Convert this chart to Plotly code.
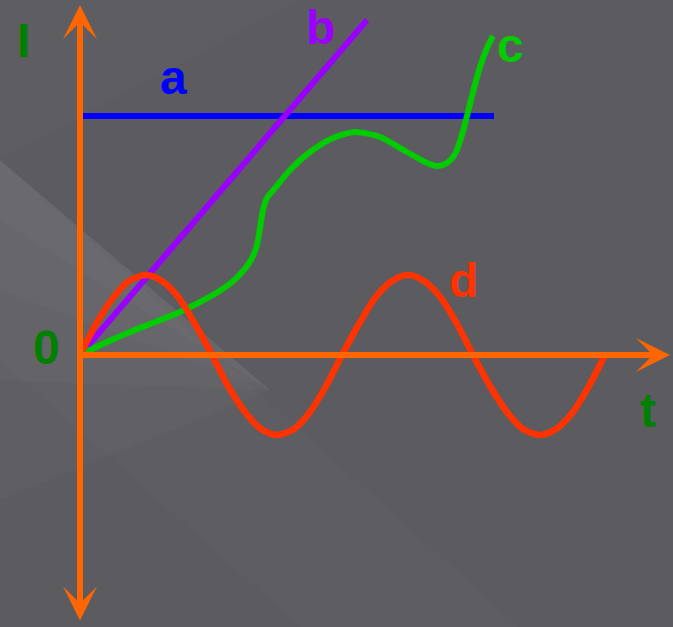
import plotly.graph_objects as go

# curve points (screen-like units, y grows downward)
a_x = [80, 494]
a_y = [116, 116]

b_x = [80, 367]
b_y = [355, 20]

c_x = [80, 105, 130, 155, 180, 200, 218, 232, 243, 251, 257, 260, 263, 267, 275, 290, 310, 333, 355, 380, 407, 425, 437, 447, 455, 461, 467, 473, 480, 487, 493]
c_y = [355, 343, 332, 322, 312, 302, 292, 282, 271, 260, 245, 228, 210, 198, 188, 170, 152, 138, 132, 137, 152, 162, 166, 163, 154, 138, 116, 92, 67, 48, 36]

d_x = [80, 96, 113, 129, 146, 162, 179, 195, 212, 228, 245, 261, 277, 294, 310, 326, 342,
       359, 375, 392, 408, 424, 441, 457, 473, 490, 507, 523, 540, 556, 573, 589, 605]
d_y = [355, 324, 298, 281, 275, 281, 298, 324, 355, 386, 412, 429, 435, 429, 412, 386, 355,
       324, 298, 281, 275, 281, 298, 324, 355, 386, 412, 429, 435, 429, 412, 386, 355]

# text labels
labels = ['I', '0', 't', 'a', 'b', 'c', 'd']
label_x = [23, 46, 648, 173, 320, 510, 463]
label_y = [40, 347, 410, 77, 27, 45, 280]
label_colors = ['#008000', '#008000', '#008000', '#0000ff', '#9900ff', '#00cc00', '#ff3300']

AXIS = '#ff6600'

fig = go.Figure()

fig.add_trace(go.Scatter(x=a_x, y=a_y, mode='lines', line=dict(color='#0000ff', width=6)))
fig.add_trace(go.Scatter(x=b_x, y=b_y, mode='lines', line=dict(color='#9900ff', width=6)))
fig.add_trace(go.Scatter(x=c_x, y=c_y, mode='lines',
                         line=dict(color='#00cc00', width=6, shape='spline', smoothing=0.7)))
fig.add_trace(go.Scatter(x=d_x, y=d_y, mode='lines',
                         line=dict(color='#ff3300', width=6.5, shape='spline', smoothing=0.8)))

# axes with arrow heads
fig.add_annotation(x=80, y=5, ax=80, ay=622, xref='x', yref='y', axref='x', ayref='y',
                   text='', showarrow=True, arrowhead=3, startarrowhead=3, arrowside='end+start',
                   arrowsize=0.95, startarrowsize=0.95, arrowwidth=6, arrowcolor=AXIS)
fig.add_annotation(x=670, y=355, ax=80, ay=355, xref='x', yref='y', axref='x', ayref='y',
                   text='', showarrow=True, arrowhead=3, arrowsize=0.95, arrowwidth=6, arrowcolor=AXIS)

for t, x, y, col in zip(labels, label_x, label_y, label_colors):
    fig.add_annotation(x=x, y=y, text='<b>%s</b>' % t, showarrow=False,
                       font=dict(family='Liberation Sans, Arial', size=48, color=col),
                       xanchor='center', yanchor='middle')

# soft light streak in the background, built from stacked faint wedges
fig.add_shape(type='path', path='M0,0 L300,0 L0,160 Z',
              fillcolor='rgba(255,255,255,0.015)', line_width=0, layer='below')
for d in [60, 130, 220, 340]:
    fig.add_shape(type='path', path='M0,160 L270,390 L0,%d Z' % (160 + d),
                  fillcolor='rgba(255,255,255,0.022)', line_width=0, layer='below')
fig.add_shape(type='path', path='M0,160 L520,627 L300,627 L0,360 Z',
              fillcolor='rgba(255,255,255,0.015)', line_width=0, layer='below')

fig.update_xaxes(range=[0, 673], visible=False, fixedrange=True)
fig.update_yaxes(range=[627, 0], visible=False, fixedrange=True)
fig.update_layout(width=673, height=627, margin=dict(l=0, r=0, t=0, b=0),
                  paper_bgcolor='#5c5b60', plot_bgcolor='rgba(0,0,0,0)', showlegend=False)

fig.write_html("out.html", config={'displayModeBar': False},
               post_script="document.body.style.margin='0';")
